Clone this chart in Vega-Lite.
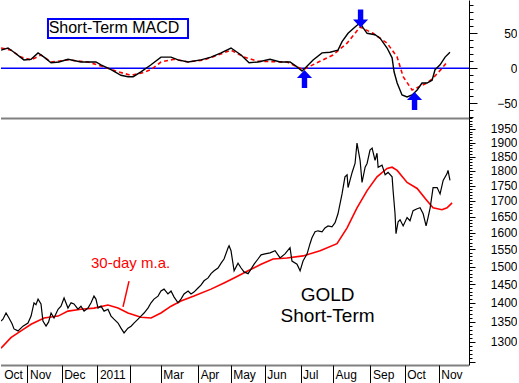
{
  "$schema": "https://vega.github.io/schema/vega-lite/v6.json",
  "padding": 0,
  "background": "white",
  "spacing": 0,
  "bounds": "flush",
  "config": {
    "view": {"stroke": null},
    "font": "Liberation Sans",
    "axis": {"labelFont": "Liberation Sans", "labelFontSize": 12, "labelColor": "black", "domainColor": "black", "tickColor": "black", "grid": false, "title": null}
  },
  "datasets": {
    "price": [
      {"d":-16.3,"p":1352},{"d":-15.1,"p":1357},{"d":-13.2,"p":1373},{"d":-11.4,"p":1360},{"d":-9.5,"p":1345},{"d":-8.3,"p":1332},{"d":-5.8,"p":1327},{"d":-2.8,"p":1339},{"d":0.3,"p":1347},{"d":2.2,"p":1365},{"d":4.0,"p":1400},{"d":5.2,"p":1395},{"d":6.5,"p":1410},{"d":8.3,"p":1397},{"d":9.5,"p":1352},{"d":11.4,"p":1339},{"d":13.0,"p":1350},{"d":14.5,"p":1373},{"d":16.3,"p":1360},{"d":18.8,"p":1383},{"d":20.6,"p":1391},{"d":21.8,"p":1405},{"d":22.5,"p":1413},{"d":24.9,"p":1386},{"d":26.8,"p":1400},{"d":28.6,"p":1397},{"d":31.1,"p":1383},{"d":32.9,"p":1391},{"d":34.8,"p":1378},{"d":37.2,"p":1386},{"d":39.1,"p":1400},{"d":40.9,"p":1418},{"d":42.1,"p":1410},{"d":43.4,"p":1386},{"d":45.2,"p":1391},{"d":47.1,"p":1378},{"d":49.5,"p":1383},{"d":51.4,"p":1365},{"d":53.2,"p":1357},{"d":55.7,"p":1347},{"d":57.5,"p":1334},{"d":59.4,"p":1322},{"d":61.8,"p":1334},{"d":63.7,"p":1339},{"d":65.5,"p":1347},{"d":68.0,"p":1357},{"d":69.8,"p":1365},{"d":71.7,"p":1373},{"d":74.1,"p":1386},{"d":76.0,"p":1400},{"d":77.8,"p":1410},{"d":80.3,"p":1418},{"d":82.1,"p":1432},{"d":84.0,"p":1437},{"d":86.4,"p":1424},{"d":88.3,"p":1432},{"d":90.1,"p":1416},{"d":92.6,"p":1400},{"d":94.4,"p":1410},{"d":96.3,"p":1424},{"d":98.8,"p":1432},{"d":100.6,"p":1424},{"d":102.4,"p":1429},{"d":104.9,"p":1440},{"d":106.7,"p":1448},{"d":108.6,"p":1460},{"d":111.1,"p":1468},{"d":112.9,"p":1480},{"d":114.8,"p":1488},{"d":117.2,"p":1496},{"d":119.1,"p":1510},{"d":120.9,"p":1522},{"d":123.4,"p":1555},{"d":124.0,"p":1561},{"d":125.2,"p":1546},{"d":127.1,"p":1488},{"d":129.5,"p":1510},{"d":131.4,"p":1496},{"d":133.2,"p":1485},{"d":135.7,"p":1480},{"d":137.5,"p":1493},{"d":139.4,"p":1507},{"d":141.8,"p":1522},{"d":143.7,"p":1534},{"d":146.1,"p":1537},{"d":149.2,"p":1540},{"d":152.3,"p":1546},{"d":155.4,"p":1525},{"d":158.4,"p":1537},{"d":161.5,"p":1555},{"d":162.7,"p":1516},{"d":165.8,"p":1507},{"d":167.7,"p":1488},{"d":169.5,"p":1516},{"d":172.0,"p":1537},{"d":173.8,"p":1567},{"d":175.0,"p":1585},{"d":176.9,"p":1603},{"d":178.7,"p":1606},{"d":181.2,"p":1603},{"d":183.0,"p":1615},{"d":184.9,"p":1621},{"d":187.3,"p":1618},{"d":189.2,"p":1631},{"d":191.0,"p":1659},{"d":193.5,"p":1723},{"d":195.3,"p":1780},{"d":196.6,"p":1787},{"d":197.2,"p":1744},{"d":199.7,"p":1795},{"d":201.5,"p":1826},{"d":202.7,"p":1898},{"d":204.6,"p":1837},{"d":205.8,"p":1761},{"d":207.7,"p":1813},{"d":208.9,"p":1826},{"d":210.7,"p":1873},{"d":212.0,"p":1880},{"d":213.8,"p":1837},{"d":215.0,"p":1862},{"d":215.7,"p":1813},{"d":218.1,"p":1820},{"d":220.0,"p":1787},{"d":221.8,"p":1795},{"d":224.3,"p":1780},{"d":224.9,"p":1734},{"d":226.1,"p":1659},{"d":226.7,"p":1597},{"d":228.0,"p":1634},{"d":229.2,"p":1640},{"d":231.1,"p":1621},{"d":233.5,"p":1647},{"d":235.3,"p":1637},{"d":237.2,"p":1669},{"d":239.7,"p":1675},{"d":241.5,"p":1678},{"d":243.4,"p":1659},{"d":245.2,"p":1621},{"d":246.4,"p":1647},{"d":247.7,"p":1678},{"d":249.5,"p":1744},{"d":252.0,"p":1744},{"d":253.8,"p":1723},{"d":255.7,"p":1768},{"d":258.1,"p":1791},{"d":258.7,"p":1802},{"d":259.9,"p":1768}
    ],
    "ma": [
      {"d":-16.3,"a":1284},{"d":-10.2,"a":1310},{"d":-4.0,"a":1327},{"d":2.2,"a":1344},{"d":10.2,"a":1360},{"d":18.8,"a":1365},{"d":24.9,"a":1378},{"d":32.9,"a":1383},{"d":40.9,"a":1386},{"d":49.5,"a":1394},{"d":55.7,"a":1386},{"d":61.8,"a":1373},{"d":69.8,"a":1362},{"d":76.0,"a":1360},{"d":82.1,"a":1373},{"d":88.3,"a":1391},{"d":94.4,"a":1405},{"d":102.4,"a":1418},{"d":112.9,"a":1437},{"d":120.9,"a":1454},{"d":127.1,"a":1468},{"d":135.7,"a":1488},{"d":143.7,"a":1507},{"d":151.1,"a":1522},{"d":159.7,"a":1525},{"d":169.5,"a":1531},{"d":180.0,"a":1546},{"d":190.4,"a":1567},{"d":196.6,"a":1615},{"d":202.7,"a":1678},{"d":208.9,"a":1734},{"d":215.0,"a":1780},{"d":221.2,"a":1809},{"d":224.3,"a":1813},{"d":227.4,"a":1802},{"d":233.5,"a":1761},{"d":239.7,"a":1741},{"d":245.8,"a":1701},{"d":249.5,"a":1678},{"d":255.0,"a":1672},{"d":258.1,"a":1678},{"d":261.2,"a":1694}
    ],
    "macd": [
      {"d":-16.3,"m":26},{"d":-12.0,"m":29},{"d":-8.3,"m":23},{"d":-2.2,"m":12},{"d":2.2,"m":13},{"d":6.5,"m":22},{"d":10.2,"m":16},{"d":14.5,"m":8},{"d":19.4,"m":9},{"d":24.9,"m":13},{"d":32.9,"m":9},{"d":42.1,"m":9},{"d":45.2,"m":5},{"d":51.4,"m":-2},{"d":57.5,"m":-10},{"d":61.8,"m":-12},{"d":65.0,"m":-12},{"d":69.8,"m":-5},{"d":76.0,"m":5},{"d":82.1,"m":16},{"d":88.3,"m":16},{"d":92.6,"m":12},{"d":98.8,"m":9},{"d":106.7,"m":12},{"d":112.9,"m":16},{"d":119.1,"m":22},{"d":125.2,"m":29},{"d":131.4,"m":19},{"d":136.3,"m":8},{"d":141.8,"m":9},{"d":149.2,"m":13},{"d":155.4,"m":9},{"d":161.5,"m":9},{"d":165.8,"m":2},{"d":168.9,"m":-4},{"d":170.7,"m":0},{"d":175.7,"m":12},{"d":181.2,"m":22},{"d":186.1,"m":23},{"d":191.0,"m":26},{"d":193.5,"m":38},{"d":197.2,"m":50},{"d":201.5,"m":59},{"d":204.6,"m":65},{"d":206.4,"m":58},{"d":208.9,"m":50},{"d":213.8,"m":48},{"d":216.9,"m":43},{"d":221.2,"m":29},{"d":224.3,"m":15},{"d":225.5,"m":-5},{"d":227.4,"m":-21},{"d":230.4,"m":-38},{"d":233.5,"m":-41},{"d":236.6,"m":-38},{"d":239.7,"m":-31},{"d":242.7,"m":-21},{"d":245.8,"m":-21},{"d":248.9,"m":-17},{"d":250.7,"m":-2},{"d":253.8,"m":5},{"d":256.9,"m":16},{"d":259.9,"m":23}
    ],
    "signal": [
      {"d":-16.3,"s":29},{"d":-10.2,"s":26},{"d":-4.0,"s":16},{"d":2.2,"s":12},{"d":8.3,"s":19},{"d":14.5,"s":9},{"d":24.9,"s":12},{"d":37.2,"s":9},{"d":47.1,"s":2},{"d":55.7,"s":-5},{"d":63.7,"s":-10},{"d":69.8,"s":-7},{"d":76.0,"s":-2},{"d":82.1,"s":9},{"d":90.1,"s":13},{"d":98.8,"s":9},{"d":108.6,"s":12},{"d":117.2,"s":19},{"d":125.2,"s":26},{"d":133.2,"s":16},{"d":141.8,"s":10},{"d":159.7,"s":9},{"d":169.5,"s":-2},{"d":178.1,"s":8},{"d":187.9,"s":19},{"d":196.6,"s":36},{"d":204.6,"s":59},{"d":212.6,"s":50},{"d":221.2,"s":36},{"d":227.4,"s":16},{"d":231.1,"s":-12},{"d":236.6,"s":-31},{"d":240.3,"s":-27},{"d":245.8,"s":-21},{"d":249.5,"s":-14},{"d":255.0,"s":0},{"d":258.1,"s":9}
    ],
    "arrows": [
      {"d":170.4,"v":-15.3,"dir":"up"},
      {"d":238.1,"v":-46.7,"dir":"up"},
      {"d":204.9,"v":71.1,"dir":"down"}
    ]
  },
  "vconcat": [
    {
      "width": 468,
      "height": 118,
      "resolve": {"axis": {"x": "independent", "y": "independent"}},
      "layer": [
        {
          "data": {"values": [{}]},
          "mark": {"type": "rule", "color": "#0000ff", "strokeWidth": 1.5},
          "encoding": {
            "y": {"datum": 0, "type": "quantitative", "scale": {"domain": [-71, 97.6], "nice": false, "zero": false},
                  "axis": {"orient": "right", "values": [-70,-60,-50,-40,-30,-20,-10,0,10,20,30,40,50,60,70,80,90], "tickSize": 4, "labels": false, "domain": true}}
          }
        },
        {
          "data": {"name": "signal"},
          "mark": {"type": "line", "color": "#ff0000", "strokeWidth": 1.6, "strokeDash": [4, 3], "clip": true},
          "encoding": {
            "x": {"field": "d", "type": "quantitative", "scale": {"domain": [-16.3, 271.6], "nice": false, "zero": false}, "axis": null},
            "y": {"field": "s", "type": "quantitative", "scale": {"domain": [-71, 97.6], "nice": false, "zero": false}, "axis": null}
          }
        },
        {
          "data": {"name": "macd"},
          "mark": {"type": "line", "color": "black", "strokeWidth": 1.4, "clip": true},
          "encoding": {
            "x": {"field": "d", "type": "quantitative", "scale": {"domain": [-16.3, 271.6], "nice": false, "zero": false},
                  "axis": {"ticks": false, "labels": false, "domainDash": [1, 1], "domainWidth": 2}},
            "y": {"field": "m", "type": "quantitative", "scale": {"domain": [-71, 97.6], "nice": false, "zero": false},
                  "axis": {"orient": "right", "values": [-50, 0, 50], "tickSize": 8, "labelPadding": 40, "labelAlign": "right", "domain": false}}
          }
        },
        {
          "data": {"name": "arrows"},
          "mark": {"type": "point", "filled": true, "opacity": 1, "size": 324, "color": "#0000ff"},
          "encoding": {
            "x": {"field": "d", "type": "quantitative", "scale": {"domain": [-16.3, 271.6], "nice": false, "zero": false}, "axis": null},
            "y": {"field": "v", "type": "quantitative", "scale": {"domain": [-71, 97.6], "nice": false, "zero": false}, "axis": null},
            "shape": {"field": "dir", "type": "nominal", "legend": null,
                      "scale": {"domain": ["up", "down"], "range": ["M-0.3,1L0.3,1L0.3,-0.1L0.84,-0.1L0,-1L-0.84,-0.1L-0.3,-0.1Z", "M-0.3,-1L0.3,-1L0.3,0.1L0.84,0.1L0,1L-0.84,0.1L-0.3,0.1Z"]}}
          }
        },
        {
          "data": {"values": [{}]},
          "mark": {"type": "rect", "fill": "white", "stroke": "#0000ff", "strokeWidth": 2},
          "encoding": {
            "x": {"datum": 12.6, "type": "quantitative", "scale": {"domain": [-16.3, 271.6], "nice": false, "zero": false}, "axis": null},
            "x2": {"datum": 98.75},
            "y": {"datum": 70.4, "type": "quantitative", "scale": {"domain": [-71, 97.6], "nice": false, "zero": false}, "axis": null},
            "y2": {"datum": 43.3}
          }
        },
        {
          "data": {"values": [{}]},
          "mark": {"type": "text", "text": "Short-Term MACD", "fontSize": 16, "color": "black", "align": "center", "baseline": "middle", "font": "Liberation Sans"},
          "encoding": {
            "x": {"datum": 53.2, "type": "quantitative", "scale": {"domain": [-16.3, 271.6], "nice": false, "zero": false}, "axis": null},
            "y": {"datum": 56.9, "type": "quantitative", "scale": {"domain": [-71, 97.6], "nice": false, "zero": false}, "axis": null}
          }
        }
      ]
    },
    {
      "width": 468,
      "height": 247,
      "resolve": {"axis": {"x": "independent", "y": "independent"}},
      "layer": [
        {
          "data": {"name": "ma"},
          "mark": {"type": "line", "color": "#ff0000", "strokeWidth": 1.6, "clip": true},
          "encoding": {
            "x": {"field": "d", "type": "quantitative", "scale": {"domain": [-16.3, 271.6], "nice": false, "zero": false}, "axis": null},
            "y": {"field": "a", "type": "quantitative", "scale": {"type": "log", "domain": [1243.5, 1991.3], "nice": false},
                  "axis": {"orient": "right", "values": [1250,1260,1270,1280,1290,1300,1310,1320,1330,1340,1350,1360,1370,1380,1390,1400,1410,1420,1430,1440,1450,1460,1470,1480,1490,1500,1510,1520,1530,1540,1550,1560,1570,1580,1590,1600,1610,1620,1630,1640,1650,1660,1670,1680,1690,1700,1710,1720,1730,1740,1750,1760,1770,1780,1790,1800,1810,1820,1830,1840,1850,1860,1870,1880,1890,1900,1910,1920,1930,1940,1950,1960,1970,1980,1990], "tickSize": 3, "labels": false, "domain": true}}
          }
        },
        {
          "data": {"name": "price"},
          "mark": {"type": "line", "color": "black", "strokeWidth": 1.2, "clip": true},
          "encoding": {
            "x": {"field": "d", "type": "quantitative", "scale": {"domain": [-16.3, 271.6], "nice": false, "zero": false},
                  "axis": {"values": [-15.9, 0, 21, 43, 63, 82, 105, 125, 146, 168, 188, 211, 232, 253],
                           "labelExpr": "['Oct','Nov','Dec','2011','','Mar','Apr','May','Jun','Jul','Aug','Sep','Oct','Nov'][indexof([-15.9,0,21,43,63,82,105,125,146,168,188,211,232,253], datum.value)]",
                           "tickSize": 18, "labelAlign": "left", "labelOffset": 2, "labelPadding": -14, "labelBaseline": "top", "labelOverlap": false, "labelFlush": false,
                           "domainDash": [1, 1], "domainWidth": 2,
                           "tickColor": {"condition": {"test": "datum.value < 0", "value": "transparent"}, "value": "black"}}},
            "y": {"field": "p", "type": "quantitative", "scale": {"type": "log", "domain": [1243.5, 1991.3], "nice": false},
                  "axis": {"orient": "right", "values": [1250,1300,1350,1400,1450,1500,1550,1600,1650,1700,1750,1800,1850,1900,1950], "format": "d", "labelExpr": "datum.value < 1280 ? '' : datum.label", "tickSize": 6, "labelPadding": 42, "labelAlign": "right", "domain": false, "labelOverlap": false}}
          }
        },
        {
          "data": {"values": [{}]},
          "mark": {"type": "rule", "color": "#ff0000", "strokeWidth": 1.5},
          "encoding": {
            "x": {"datum": 62.45, "type": "quantitative", "scale": {"domain": [-16.3, 271.6], "nice": false, "zero": false}, "axis": null},
            "y": {"datum": 1459, "type": "quantitative", "scale": {"type": "log", "domain": [1243.5, 1991.3], "nice": false}, "axis": null},
            "x2": {"datum": 58.76},
            "y2": {"datum": 1389}
          }
        },
        {
          "data": {"values": [{}]},
          "mark": {"type": "text", "text": "30-day m.a.", "fontSize": 15, "color": "#ff0000", "align": "center", "baseline": "middle", "font": "Liberation Sans"},
          "encoding": {
            "x": {"datum": 63.4, "type": "quantitative", "scale": {"domain": [-16.3, 271.6], "nice": false, "zero": false}, "axis": null},
            "y": {"datum": 1509, "type": "quantitative", "scale": {"type": "log", "domain": [1243.5, 1991.3], "nice": false}, "axis": null}
          }
        },
        {
          "data": {"values": [{}]},
          "mark": {"type": "text", "text": "GOLD", "fontSize": 19, "color": "black", "align": "center", "baseline": "middle", "font": "Liberation Sans"},
          "encoding": {
            "x": {"datum": 184.6, "type": "quantitative", "scale": {"domain": [-16.3, 271.6], "nice": false, "zero": false}, "axis": null},
            "y": {"datum": 1422, "type": "quantitative", "scale": {"type": "log", "domain": [1243.5, 1991.3], "nice": false}, "axis": null}
          }
        },
        {
          "data": {"values": [{}]},
          "mark": {"type": "text", "text": "Short-Term", "fontSize": 19, "color": "black", "align": "center", "baseline": "middle", "font": "Liberation Sans"},
          "encoding": {
            "x": {"datum": 184.6, "type": "quantitative", "scale": {"domain": [-16.3, 271.6], "nice": false, "zero": false}, "axis": null},
            "y": {"datum": 1364, "type": "quantitative", "scale": {"type": "log", "domain": [1243.5, 1991.3], "nice": false}, "axis": null}
          }
        }
      ]
    }
  ]
}
